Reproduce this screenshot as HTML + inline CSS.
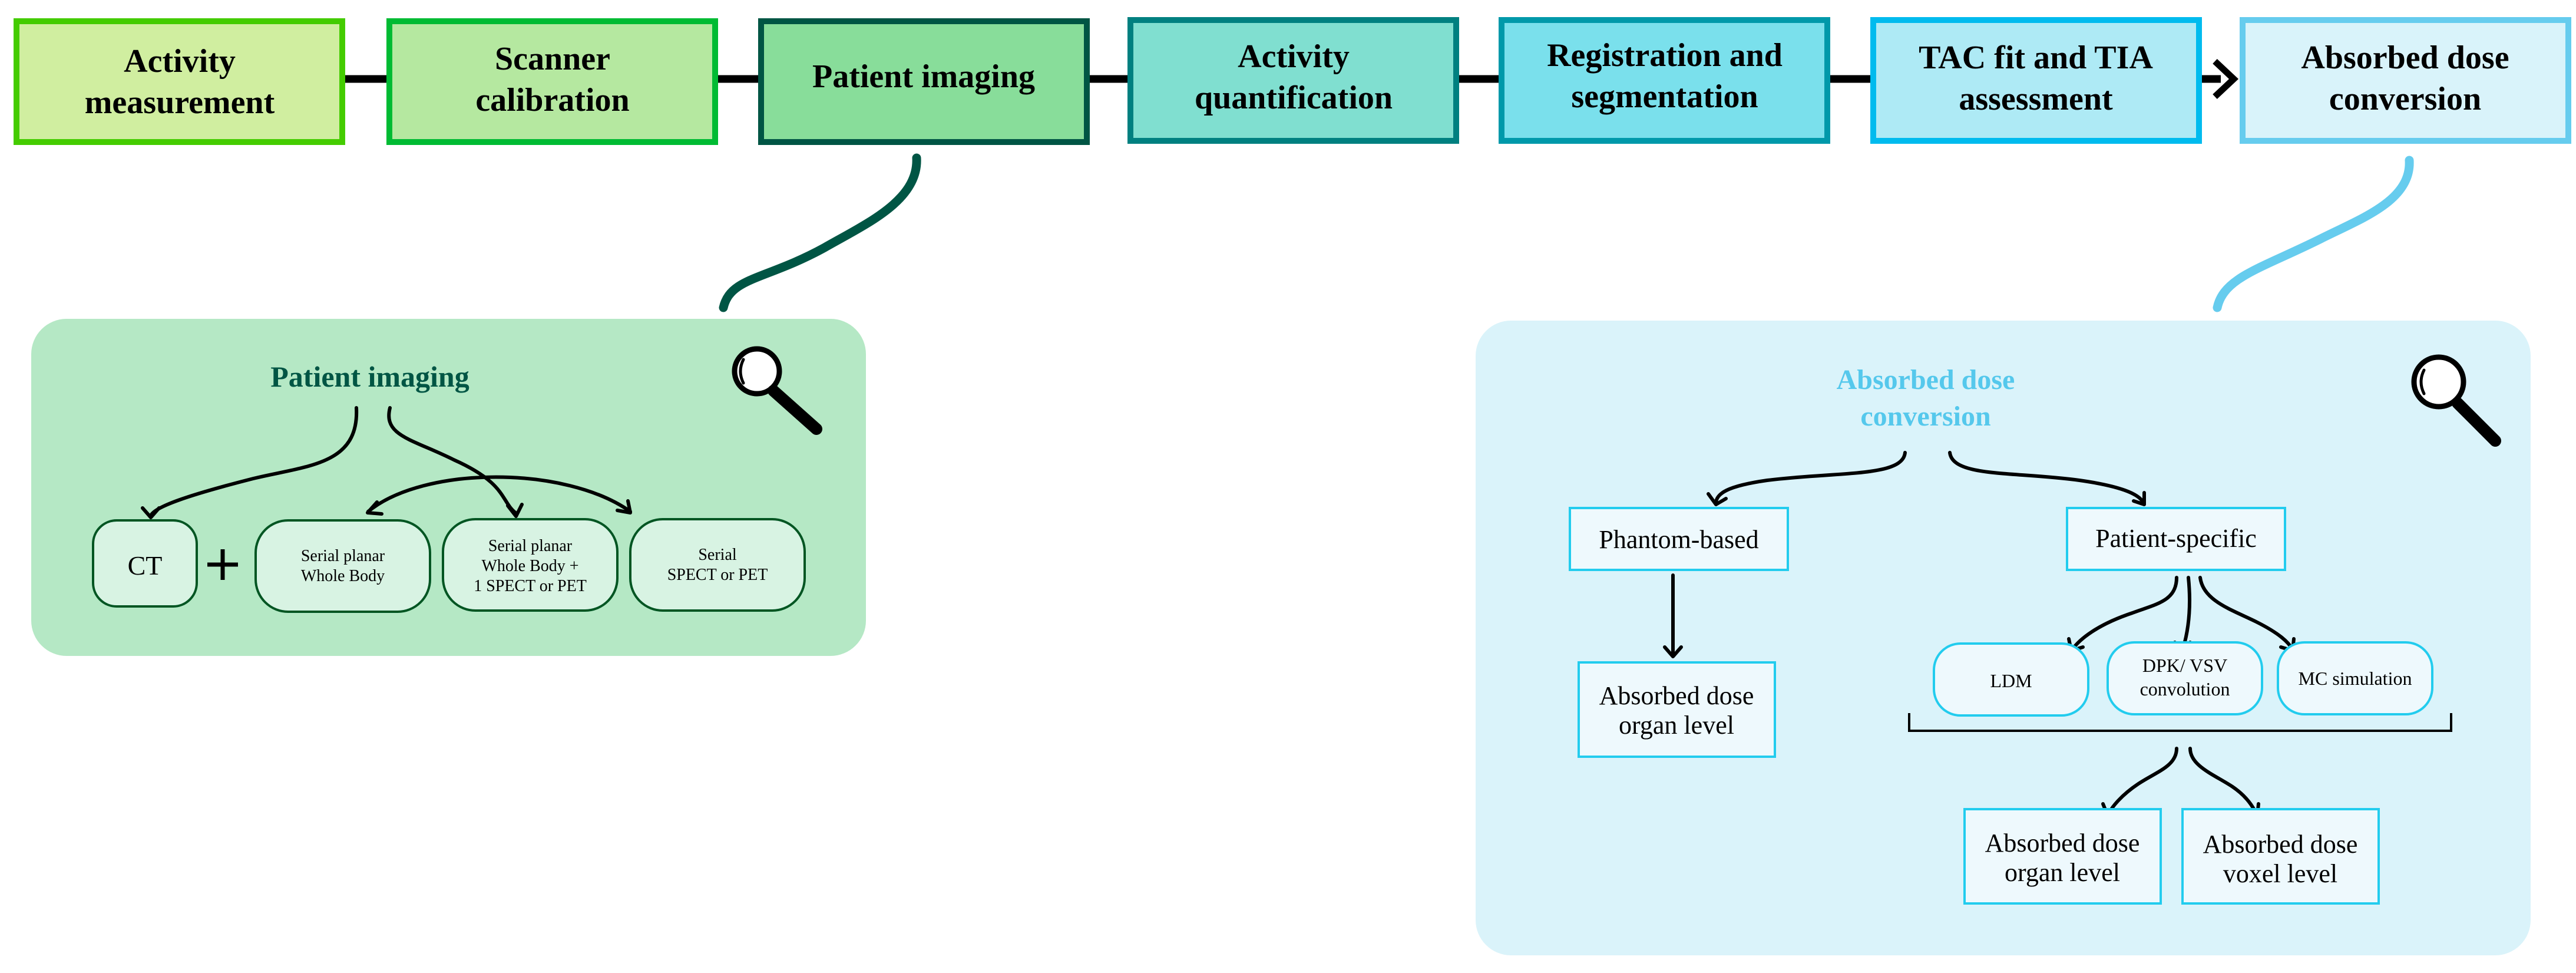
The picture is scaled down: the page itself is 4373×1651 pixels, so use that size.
<!DOCTYPE html>
<html><head><meta charset="utf-8"><style>
html,body{margin:0;padding:0;background:#fff;}
svg{display:block;}
</style></head><body>
<svg width="4373" height="1651" viewBox="0 0 4373 1651" xmlns="http://www.w3.org/2000/svg" font-family="'Liberation Serif', serif">
<line x1="583" y1="134" x2="3770" y2="134" stroke="#000" stroke-width="13"/>
<polyline points="3760,104 3792,134 3760,164" fill="none" stroke="#000" stroke-width="11" stroke-linejoin="miter"/>
<g stroke-width="10">
<rect x="28" y="36" width="553" height="205" fill="#d0eea0" stroke="#44cc00"/>
<rect x="661" y="36" width="553" height="205" fill="#b5e8a0" stroke="#00bb33"/>
<rect x="1292" y="36" width="553" height="205" fill="#88dd9a" stroke="#005544"/>
<rect x="1919" y="34" width="553" height="205" fill="#80dfd0" stroke="#008080"/>
<rect x="2549" y="34" width="553" height="205" fill="#7ae0ec" stroke="#0099aa"/>
<rect x="3180" y="34" width="553" height="205" fill="#aeeaf5" stroke="#00bbee"/>
<rect x="3807" y="34" width="553" height="205" fill="#d9f3fa" stroke="#66ccee"/>
</g>
<g font-weight="bold" font-size="56" text-anchor="middle" fill="#000" font-family="'Liberation Serif', serif">
<text x="305" y="122">Activity</text><text x="305" y="192">measurement</text>
<text x="938" y="118">Scanner</text><text x="938" y="188">calibration</text>
<text x="1568" y="148">Patient imaging</text>
<text x="2196" y="114">Activity</text><text x="2196" y="184">quantification</text>
<text x="2826" y="112">Registration and</text><text x="2826" y="182">segmentation</text>
<text x="3456" y="116">TAC fit and TIA</text><text x="3456" y="186">assessment</text>
<text x="4083" y="116">Absorbed dose</text><text x="4083" y="186">conversion</text>
</g>
<path d="M1556,268 C1560,340 1470,380 1400,420 C1300,475 1240,470 1228,522" fill="none" stroke="#005544" stroke-width="15" stroke-linecap="round"/>
<path d="M4090,272 C4094,340 4010,370 3940,405 C3840,455 3775,470 3764,522" fill="none" stroke="#66ccee" stroke-width="15" stroke-linecap="round"/>
<rect x="53" y="541" width="1417" height="572" rx="60" fill="#b5e8c5"/>
<text x="628" y="656" font-size="50" font-weight="bold" fill="#005544" text-anchor="middle" font-family="'Liberation Serif', serif">Patient imaging</text>
<g stroke="#000" fill="none" stroke-width="9" stroke-linecap="round">
<circle cx="1285" cy="630" r="38" fill="#fff"/>
<path d="M1262,610 Q1252,630 1262,650" stroke-width="5"/>
<line x1="1313" y1="663" x2="1386" y2="728" stroke-width="20"/>
</g>
<g stroke="#000" fill="none" stroke-width="6" stroke-linecap="round" stroke-linejoin="round">
<path d="M605,692 C610,790 520,790 430,812 C320,840 262,860 256,875"/>
<polyline points="242,862 256,878 270,862"/>
<path d="M662,692 C650,740 700,745 770,780 C860,820 850,850 875,870"/>
<polyline points="862,858 876,876 886,856"/>
<path d="M625,868 C720,790 960,790 1070,868"/>
<polyline points="640,852 624,870 648,872"/>
<polyline points="1048,866 1070,870 1066,850"/>
</g>
<g fill="#d8f3e3" stroke="#005522" stroke-width="4">
<rect x="158" y="883" width="176" height="146" rx="40"/>
<rect x="434" y="883" width="296" height="155" rx="55"/>
<rect x="752" y="881" width="296" height="155" rx="55"/>
<rect x="1070" y="881" width="296" height="155" rx="55"/>
</g>
<text x="246" y="975" font-size="46" text-anchor="middle" font-family="'Liberation Serif', serif">CT</text>
<g stroke="#000" stroke-width="7"><line x1="352" y1="958" x2="404" y2="958"/><line x1="378" y1="932" x2="378" y2="984"/></g>
<g font-size="28" text-anchor="middle" font-family="'Liberation Serif', serif">
<text x="582" y="952">Serial planar</text><text x="582" y="986">Whole Body</text>
<text x="900" y="935">Serial planar</text><text x="900" y="969">Whole Body +</text><text x="900" y="1003">1 SPECT or PET</text>
<text x="1218" y="950">Serial</text><text x="1218" y="984">SPECT or PET</text>
</g>
<rect x="2505" y="544" width="1791" height="1077" rx="60" fill="#daf3fa"/>
<g font-size="48" font-weight="bold" fill="#55c8ec" text-anchor="middle" font-family="'Liberation Serif', serif">
<text x="3269" y="660">Absorbed dose</text><text x="3269" y="722">conversion</text>
</g>
<g stroke="#000" fill="none" stroke-width="9" stroke-linecap="round">
<circle cx="4140" cy="648" r="42" fill="#fff"/>
<path d="M4115,628 Q4105,648 4115,668" stroke-width="5"/>
<line x1="4172" y1="684" x2="4236" y2="748" stroke-width="20"/>
</g>
<g stroke="#000" fill="none" stroke-width="6" stroke-linecap="round" stroke-linejoin="round">
<path d="M3234,768 C3230,810 3120,800 3000,815 C2930,825 2915,838 2913,852"/>
<polyline points="2900,838 2913,856 2930,846"/>
<path d="M3310,768 C3315,810 3420,800 3530,815 C3600,825 3630,838 3638,852"/>
<polyline points="3622,850 3640,856 3640,836"/>
<line x1="2840" y1="976" x2="2840" y2="1112"/>
<polyline points="2826,1098 2840,1114 2854,1098"/>
<path d="M3695,980 C3695,1020 3660,1025 3620,1040 C3560,1060 3530,1085 3518,1102"/>
<polyline points="3512,1084 3516,1104 3536,1098"/>
<path d="M3715,980 C3720,1030 3715,1070 3706,1100"/>
<polyline points="3692,1090 3706,1104 3718,1090"/>
<path d="M3735,980 C3740,1020 3790,1035 3830,1055 C3870,1075 3885,1090 3892,1102"/>
<polyline points="3872,1098 3892,1104 3894,1084"/>
<path d="M3695,1270 C3695,1300 3660,1310 3630,1330 C3600,1350 3585,1370 3580,1380"/>
<polyline points="3570,1364 3578,1384 3598,1380"/>
<path d="M3718,1270 C3718,1300 3760,1315 3790,1335 C3815,1352 3825,1370 3830,1380"/>
<polyline points="3810,1380 3832,1384 3834,1364"/>
</g>
<polyline points="3241,1210 3241,1240 4161,1240 4161,1210" fill="none" stroke="#000" stroke-width="4"/>
<g fill="#eef9fd" stroke="#22ccee" stroke-width="4">
<rect x="2665" y="862" width="370" height="105"/>
<rect x="3509" y="862" width="370" height="105"/>
<rect x="2680" y="1124" width="333" height="160"/>
<rect x="3335" y="1373" width="333" height="160"/>
<rect x="3705" y="1373" width="333" height="160"/>
<rect x="3283" y="1092" width="262" height="122" rx="45"/>
<rect x="3578" y="1090" width="262" height="122" rx="45"/>
<rect x="3867" y="1090" width="262" height="122" rx="45"/>
</g>
<g font-size="44" text-anchor="middle" font-family="'Liberation Serif', serif">
<text x="2850" y="930">Phantom-based</text>
<text x="3694" y="928">Patient-specific</text>
<text x="2846" y="1195">Absorbed dose</text><text x="2846" y="1245">organ level</text>
<text x="3501" y="1445">Absorbed dose</text><text x="3501" y="1495">organ level</text>
<text x="3871" y="1447">Absorbed dose</text><text x="3871" y="1497">voxel level</text>
</g>
<g font-size="32" text-anchor="middle" font-family="'Liberation Serif', serif">
<text x="3414" y="1166">LDM</text>
<text x="3709" y="1140">DPK/ VSV</text><text x="3709" y="1180">convolution</text>
<text x="3998" y="1162">MC simulation</text>
</g>
</svg>
</body></html>
